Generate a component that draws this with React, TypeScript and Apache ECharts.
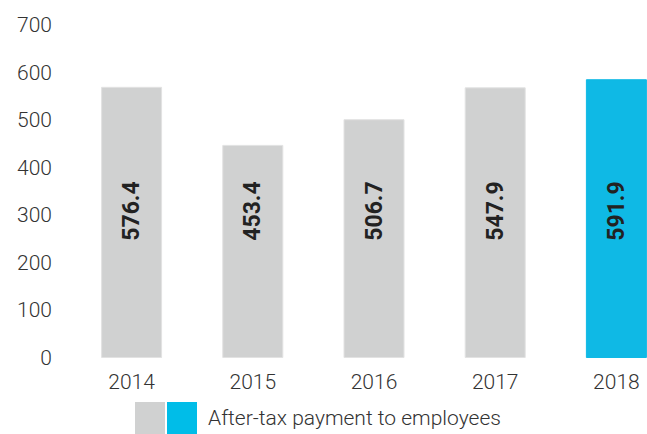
import React, { useEffect, useRef } from "react";
import * as echarts from "echarts";

const years = ["2014", "2015", "2016", "2017", "2018"];
// bar heights as drawn in the picture
const barHeights = [570, 448, 502, 569, 586];
// value labels printed on the bars
const barLabels = ["576.4", "453.4", "506.7", "547.9", "591.9"];
const yTicks = [0, 100, 200, 300, 400, 500, 600, 700];
const legendText = "After-tax payment to employees";

const GRAY = "#d0d1d1";
const BLUE = "#0fb9e5";
const FONT = "Roboto, 'Noto Sans', sans-serif";

export default function App() {
  const ref = useRef<HTMLDivElement>(null);
  useEffect(() => {
    if (!ref.current) return;
    const chart = echarts.init(ref.current, undefined, { renderer: "svg" });
    chart.setOption({
      animation: false,
      grid: { left: 71, top: 25, right: 0, height: 333, containLabel: false },
      xAxis: {
        type: "category",
        data: years,
        axisLine: { show: false },
        axisTick: { show: false },
        axisLabel: { color: "#333", fontSize: 21, fontFamily: FONT, fontWeight: 300, margin: 13 },
      },
      yAxis: {
        type: "value",
        min: yTicks[0],
        max: yTicks[yTicks.length - 1],
        interval: 100,
        splitLine: { show: false },
        axisLine: { show: false },
        axisTick: { show: false },
        axisLabel: { color: "#333", fontSize: 21, fontFamily: FONT, fontWeight: 300, margin: 19 },
      },
      series: [
        {
          type: "bar",
          barWidth: 61,
          data: barHeights.map((v, i) => ({
            value: v,
            itemStyle: {
              color: i === barHeights.length - 1 ? BLUE : GRAY,
              borderColor: i === barHeights.length - 1 ? BLUE : "#e2e2e2",
              borderWidth: 1,
            },
          })),
          label: {
            show: true,
            position: "insideBottom",
            distance: 147,
            rotate: 90,
            align: "center",
            verticalAlign: "middle",
            color: "#222",
            fontSize: 23,
            fontWeight: "bold",
            fontFamily: FONT,
            formatter: (p: any) => barLabels[p.dataIndex],
          },
        },
      ],
      graphic: [
        { type: "rect", shape: { x: 135, y: 402, width: 30, height: 32 }, style: { fill: GRAY } },
        { type: "rect", shape: { x: 167, y: 402, width: 30, height: 32 }, style: { fill: "#00bde8" } },
        {
          type: "text",
          x: 208,
          y: 418,
          style: {
            text: legendText,
            fill: "#333",
            fontSize: 21,
            fontFamily: FONT,
            fontWeight: 300,
            verticalAlign: "middle",
          },
        },
      ],
    });
    return () => chart.dispose();
  }, []);
  return (
    <div
      style={{ position: "fixed", left: 0, top: 0, width: 647, height: 434, overflow: "hidden", background: "#fff" }}
    >
      <div ref={ref} style={{ width: 677, height: 434 }} />
    </div>
  );
}
